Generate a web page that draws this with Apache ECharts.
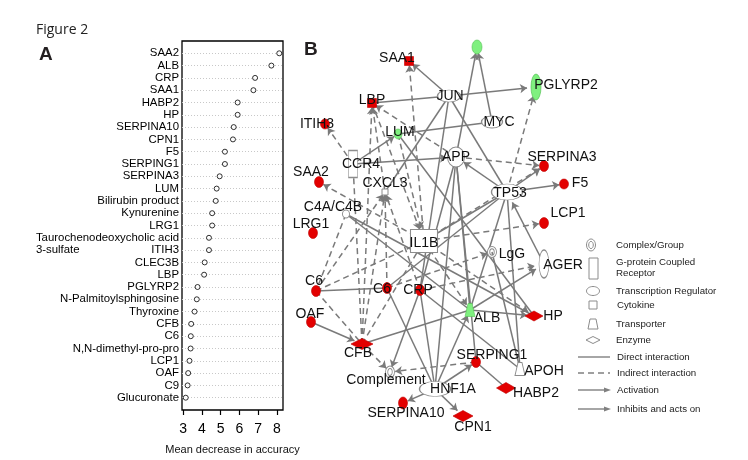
<!DOCTYPE html>
<html><head><meta charset="utf-8">
<script src="https://cdn.jsdelivr.net/npm/echarts@6/dist/echarts.min.js"></script>
<style>html,body{margin:0;padding:0;background:#fff}#c{width:748px;height:460px}</style>
</head><body><div id="c"></div>
<script>
// ---------- Panel A data ----------
const predictorNames = ['SAA2','ALB','CRP','SAA1','HABP2','HP','SERPINA10','CPN1','F5','SERPING1','SERPINA3','LUM','Bilirubin product','Kynurenine','LRG1','Taurochenodeoxycholic acid','ITIH3','CLEC3B','LBP','PGLYRP2','N-Palmitoylsphingosine','Thyroxine','CFB','C6','N,N-dimethyl-pro-pro','LCP1','OAF','C9','Glucuronate'];
const meanDecreaseAccuracy = [8.13,7.71,6.84,6.75,5.91,5.91,5.70,5.66,5.23,5.23,4.95,4.79,4.74,4.55,4.55,4.38,4.38,4.15,4.12,3.77,3.73,3.61,3.43,3.41,3.40,3.34,3.27,3.24,3.14];
const xTickValues = [3,4,5,6,7,8];
const continuationText = '3-sulfate'; // second line of "Taurochenodeoxycholic acid 3-sulfate"

// ---------- Panel B data (network layout in figure coordinates) ----------
const nodeNames  = ['SAA1','G1','PGLYRP2','JUN','LBP','MYC','ITIH3','LUM','CCR4','APP','SERPINA3','SAA2','CXCL3','TP53','F5','C4A/C4B','LCP1','LRG1','IL1B','LgG','AGER','C6a','C6b','CRP','ALB','HP','OAF','CFB','SERPING1','APOH','Complement','HNF1A','HABP2','SERPINA10','CPN1'];
const nodeLabels = ['SAA1','','PGLYRP2','JUN','LBP','MYC','ITIH3','LUM','CCR4','APP','SERPINA3','SAA2','CXCL3','TP53','F5','C4A/C4B','LCP1','LRG1','IL1B','LgG','AGER','C6','C6','CRP','ALB','HP','OAF','CFB','SERPING1','APOH','Complement','HNF1A','HABP2','SERPINA10','CPN1'];
const nodeX = [409,477,536,449,372,492,325,398,353,456,544,319,385,507,564,346,544,313,424,492,544,316,387,420,470,534,311,362,476,520,390,435,506,403,463];
const nodeY = [61,47,87,96,103,122,124,134,164,157,166,182,192,192,184,214,223,233,241,252,264,291,288,290,310,316,322,344,362,369,372,389,388,403,416];
const nodeTypes = ['square','other','other','transcription','square','transcription','other','other','gpcr','other','other','other','cytokine','transcription','other','other','other','other','cytokine','complex','other','other','other','other','transporter','enzyme','other','enzyme','other','transporter','complex','transcription','enzyme','other','enzyme'];
const nodeRegulation = ['up','down','down','none','up','none','up','down','none','none','up','up','none','none','up','none','up','up','none','none','none','up','up','up','down','up','up','up','up','none','none','none','up','up','up'];
// [source, target, relation, activation arrow]
const edgeList = [
 ['JUN','SAA1','direct',1],['IL1B','SAA1','indirect',1],['JUN','PGLYRP2','direct',1],['LBP','JUN','direct',0],
 ['MYC','G1','direct',1],['APP','G1','direct',1],['MYC','LUM','direct',0],['APP','LBP','indirect',1],
 ['CXCL3','LBP','indirect',1],['CFB','LBP','indirect',1],['LBP','IL1B','indirect',1],['LUM','IL1B','indirect',1],
 ['JUN','CXCL3','direct',0],['JUN','CRP','direct',0],['JUN','TP53','direct',0],['CCR4','APP','direct',1],
 ['CCR4','LUM','direct',1],['CCR4','ITIH3','indirect',1],['APP','SERPINA3','indirect',1],['TP53','APP','direct',1],
 ['TP53','SERPINA3','direct',1],['TP53','F5','direct',1],['IL1B','SERPINA3','indirect',1],['TP53','PGLYRP2','indirect',1],
 ['IL1B','LCP1','indirect',1],['TP53','IL1B','direct',0],['TP53','C6b','direct',0],['AGER','TP53','direct',1],
 ['ALB','AGER','direct',1],['CRP','AGER','indirect',1],['C6b','LgG','indirect',1],['LgG','APOH','direct',0],
 ['ALB','HP','direct',1],['IL1B','HP','indirect',1],['IL1B','ALB','indirect',1],['APP','ALB','direct',0],
 ['TP53','ALB','direct',0],['ALB','CFB','direct',0],['OAF','CFB','direct',1],['C6a','C6b','direct',0],
 ['C6a','CXCL3','indirect',1],['C6a','IL1B','indirect',0],['C4A/C4B','C6a','indirect',0],['IL1B','SAA2','indirect',1],
 ['C4A/C4B','ALB','direct',0],['C4A/C4B','HP','direct',0],['CRP','APOH','direct',0],['LUM','HP','direct',0],
 ['C6b','CXCL3','indirect',1],['CFB','CXCL3','indirect',1],['CRP','CXCL3','indirect',1],['CFB','CCR4','indirect',0],
 ['CFB','IL1B','indirect',0],['C6a','CFB','indirect',0],['CFB','Complement','indirect',1],['SERPING1','Complement','indirect',1],
 ['CRP','Complement','direct',1],['HNF1A','SERPING1','direct',1],['HNF1A','SERPINA10','direct',1],['HNF1A','CPN1','direct',1],
 ['HNF1A','ALB','direct',1],['HNF1A','C6b','direct',0],['HNF1A','CRP','direct',0],['HNF1A','APP','direct',0],
 ['SERPING1','HABP2','direct',0],['SERPING1','APP','direct',0],['APP','CRP','direct',0],['TP53','APOH','direct',0]
];

// ---------- styles ----------
const FONT = '"Liberation Sans", Arial, sans-serif';
const nodeSizeStyle = {SAA1:[9,9],G1:[10,14],PGLYRP2:[10,26],JUN:[23,12],LBP:[9,9],MYC:[21,12],ITIH3:[9,10],LUM:[8,10],CCR4:[9,27],APP:[17,20],SERPINA3:[9,11],SAA2:[9,11],CXCL3:[6,6],TP53:[31,16],F5:[9,10],'C4A/C4B':[7,8],LCP1:[9,11],LRG1:[9,11],IL1B:[27,23],LgG:[9,11],AGER:[10,28],C6a:[9,11],C6b:[9,11],CRP:[9,11],ALB:[10,13],HP:[18,10],OAF:[9,11],CFB:[22,11],SERPING1:[9,11],APOH:[10,13],Complement:[9,12],HNF1A:[31,15],HABP2:[19,11],SERPINA10:[9,12],CPN1:[20,11]};
const labelOffsetStyle = {SAA1:[-12,-3],PGLYRP2:[30,-2],JUN:[1,0],LBP:[0,-3],MYC:[7,0],ITIH3:[-8,0],LUM:[2,-2],CCR4:[8,0],APP:[0,0],SERPINA3:[18,-9],SAA2:[-8,-10],CXCL3:[0,-9],TP53:[3,1],F5:[16,-1],'C4A/C4B':[-13,-7],LCP1:[24,-10],LRG1:[-2,-9],IL1B:[0,2],LgG:[20,2],AGER:[19,1],C6a:[-2,-10],C6b:[-5,1],CRP:[-2,0],ALB:[17,8],HP:[19,0],OAF:[-1,-8],CFB:[-4,9],SERPING1:[16,-7],APOH:[24,2],Complement:[-4,8],HNF1A:[18,0],HABP2:[30,5],SERPINA10:[3,10],CPN1:[10,11]};
const symbolByType = {
  other:'circle', transcription:'circle', cytokine:'rect', gpcr:'rect', square:'rect',
  enzyme:'diamond', transporter:'path://M3,0 L7,0 L10,10 L0,10 Z',
  complex:'path://M10,0 A10,12 0 1,0 10,24 A10,12 0 1,0 10,0 Z M10,5 A5,7 0 1,1 10,19 A5,7 0 1,1 10,5 Z'
};
const fillByReg = {up:'#e30000', down:'#7ff07f', none:'#ffffff'};
const borderByReg = {up:'#c00000', down:'#55c055', none:'#8c8c8c'};

// measure label widths for the two-line predictor name
const LABEL_SIZE = 11.4;
const mctx = document.createElement('canvas').getContext('2d');
mctx.font = LABEL_SIZE + 'px ' + FONT;
const longName = predictorNames[15];
const contName = predictorNames[16];
const sulfateBoxWidth = mctx.measureText(longName).width - mctx.measureText(contName).width;
const nRows = predictorNames.length;
const rowOf = i => nRows - i;   // first name at top

const nodes = nodeNames.map((n, i) => ({
  name: n,
  value: [nodeX[i], nodeY[i]],
  symbol: symbolByType[nodeTypes[i]],
  symbolSize: nodeSizeStyle[n],
  itemStyle: {color: fillByReg[nodeRegulation[i]], borderColor: borderByReg[nodeRegulation[i]], borderWidth: nodeRegulation[i]==='none' ? 1 : 0.6},
  label: {show: nodeLabels[i] !== '', formatter: nodeLabels[i], offset: labelOffsetStyle[n] || [0,0]}
}));
const links = edgeList.map(e => ({
  source: e[0], target: e[1],
  symbol: ['none', e[3] ? 'arrow' : 'none'],
  symbolSize: [0, 7],
  lineStyle: {type: e[2] === 'indirect' ? [6,4] : 'solid'}
}));

// ---------- legend graphics ----------
const LG = '#8c8c8c', LT = '#222';
const lgText = (t, x, y) => ({type:'text', x, y, style:{text:t, fill:LT, font:'9.7px ' + FONT, verticalAlign:'middle'}});
const legendGraphics = [
  {type:'ellipse', shape:{cx:591, cy:245, rx:4.5, ry:6}, style:{fill:'#fff', stroke:LG, lineWidth:1}},
  {type:'ellipse', shape:{cx:591, cy:245, rx:2.3, ry:3.6}, style:{fill:'#fff', stroke:LG, lineWidth:1}},
  lgText('Complex/Group', 616, 245),
  {type:'rect', shape:{x:589, y:258, width:9, height:21}, style:{fill:'#fff', stroke:LG, lineWidth:1}},
  lgText('G-protein Coupled', 616, 262), lgText('Receptor', 616, 273),
  {type:'ellipse', shape:{cx:593, cy:291, rx:6.5, ry:4.5}, style:{fill:'#fff', stroke:LG, lineWidth:1}},
  lgText('Transcription Regulator', 616, 291),
  {type:'rect', shape:{x:589, y:301, width:8, height:8}, style:{fill:'#fff', stroke:LG, lineWidth:1}},
  lgText('Cytokine', 617, 305),
  {type:'polygon', shape:{points:[[590,319],[596,319],[598,329],[588,329]]}, style:{fill:'#fff', stroke:LG, lineWidth:1}},
  lgText('Transporter', 616, 324),
  {type:'polygon', shape:{points:[[586,340],[593,336.5],[600,340],[593,343.5]]}, style:{fill:'#fff', stroke:LG, lineWidth:1}},
  lgText('Enzyme', 616, 340),
  {type:'line', shape:{x1:578, y1:357, x2:610, y2:357}, style:{stroke:'#808080', lineWidth:1.4}},
  lgText('Direct interaction', 617, 357),
  {type:'line', shape:{x1:578, y1:373, x2:610, y2:373}, style:{stroke:'#808080', lineWidth:1.4, lineDash:[6,4]}},
  lgText('Indirect interaction', 617, 373),
  {type:'line', shape:{x1:578, y1:390, x2:606, y2:390}, style:{stroke:'#808080', lineWidth:1.4}},
  {type:'polygon', shape:{points:[[604,387.5],[611,390],[604,392.5]]}, style:{fill:'#808080'}},
  lgText('Activation', 617, 390),
  {type:'line', shape:{x1:578, y1:409, x2:606, y2:409}, style:{stroke:'#808080', lineWidth:1.4}},
  {type:'polygon', shape:{points:[[604,406.5],[611,409],[604,411.5]]}, style:{fill:'#808080'}},
  lgText('Inhibits and acts on', 617, 409)
];

const chart = echarts.init(document.getElementById('c'), null, {renderer:'canvas'});
chart.setOption({
  animation: false,
  backgroundColor: '#fff',
  textStyle: {fontFamily: FONT},
  title: [
    {text:'Figure 2', left:36, top:23, padding:0, textStyle:{fontFamily:'"Open Sans", sans-serif', fontSize:14, fontWeight:'normal', color:'#222'}},
    {text:'A', left:39, top:45, padding:0, textStyle:{fontFamily:FONT, fontSize:19, fontWeight:'bold', color:'#231f20'}},
    {text:'B', left:304, top:40, padding:0, textStyle:{fontFamily:FONT, fontSize:19, fontWeight:'bold', color:'#231f20'}}
  ],
  grid: [
    {left:182, top:41, width:101, height:373, show:true, borderColor:'#000', borderWidth:1.3, backgroundColor:'transparent'},
    {left:0, top:0, width:748, height:460, show:false}
  ],
  xAxis: [
    {gridIndex:0, type:'value', min:2.94, max:8.33, position:'bottom',
     axisLine:{show:false, onZero:false}, splitLine:{show:false},
     axisTick:{show:true, customValues:xTickValues, length:5, lineStyle:{color:'#000', width:1.2}},
     axisLabel:{customValues:xTickValues, fontSize:14, color:'#000', margin:12, fontFamily:FONT},
     name:'Mean decrease in accuracy', nameLocation:'middle', nameGap:34,
     nameTextStyle:{fontSize:11, color:'#111', fontFamily:FONT}},
    {gridIndex:1, type:'value', min:0, max:748, show:false}
  ],
  yAxis: [
    {gridIndex:0, type:'value', min:0, max:nRows + 1, interval:1,
     axisLine:{show:false, onZero:false}, axisTick:{show:false},
     splitLine:{show:true, showMinLine:false, showMaxLine:false, lineStyle:{color:'#c8c8c8', type:[1,2], width:1}},
     axisLabel:{margin:3, fontSize:LABEL_SIZE, color:'#000', fontFamily:FONT,
       formatter: function (v) {
         const name = predictorNames[nRows - v];
         if (!name || v < 1) return '';
         if (name === contName) return '{s|' + continuationText + '}{n|' + name + '}';
         return name;
       },
       rich:{s:{width:sulfateBoxWidth, align:'left', fontSize:LABEL_SIZE, color:'#000', fontFamily:FONT}, n:{fontSize:LABEL_SIZE, color:'#000', fontFamily:FONT}}
     }},
    {gridIndex:1, type:'value', min:0, max:460, inverse:true, show:false}
  ],
  series: [
    {type:'scatter', xAxisIndex:0, yAxisIndex:0, silent:true,
     symbol:'circle', symbolSize:5,
     itemStyle:{color:'#fff', borderColor:'#000', borderWidth:1},
     data: meanDecreaseAccuracy.map((v, i) => [v, rowOf(i)])},
    {type:'graph', coordinateSystem:'cartesian2d', xAxisIndex:1, yAxisIndex:1, silent:true,
     edgeSymbol:['none','none'], edgeSymbolSize:[0,7],
     lineStyle:{color:'#7a7a7a', width:1.5, opacity:1, curveness:0},
     label:{show:true, position:'inside', fontSize:14, color:'#111', fontFamily:FONT},
     emphasis:{disabled:true},
     data: nodes, links: links, z:3}
  ],
  graphic: legendGraphics
});
</script>
</body></html>
